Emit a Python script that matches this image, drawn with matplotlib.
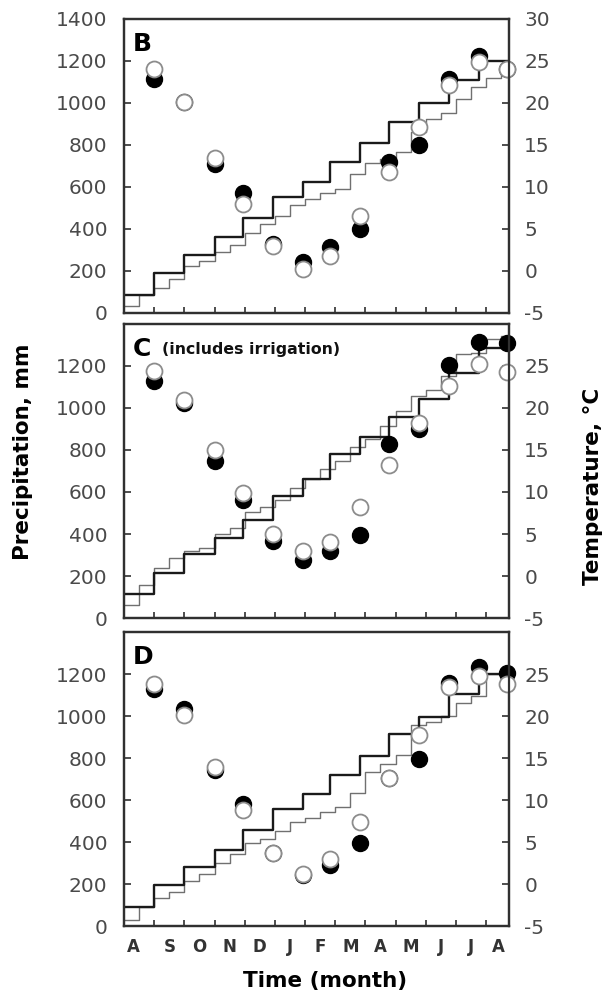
import numpy as np
import matplotlib.pyplot as plt

plt.rcParams['font.family'] = ['DejaVu Sans']
plt.rcParams['axes.unicode_minus'] = False

month_labels = ['A', 'S', 'O', 'N', 'D', 'J', 'F', 'M', 'A', 'M', 'J', 'J', 'A']
# sampling dates, in months since 1 August
sample_month = [1.0, 1.99, 3.0, 3.96, 4.94, 5.93, 6.84, 7.82, 8.79, 9.79, 10.77, 11.75, 12.68]

# panel B
b_filled = [1114, 1005, 711, 571, 329, 243, 314, 400, 719, 802, 1114, 1222, 1163]
b_open = [1163, 1003, 738, 521, 317, 210, 273, 463, 670, 884, 1087, 1194, 1163]
b_temp_step = [-2.8, -0.2, 1.9, 4.1, 6.3, 8.8, 10.6, 13.0, 15.2, 17.7, 20.0, 22.7, 25.0]
b_temp_half = [-4.2, -2.8, -2.0, -1.0, 0.6, 1.2, 2.3, 3.1, 4.5, 5.6, 6.6, 7.9, 8.6,
               9.3, 9.8, 11.5, 12.9, 13.3, 14.2, 16.5, 18.1, 18.8, 20.5, 21.9, 23.0, 24.2]

# panel C (includes irrigation)
c_filled = [1129, 1025, 747, 564, 369, 278, 318, 393, 827, 898, 1203, 1315, 1308]
c_open = [1176, 1037, 798, 596, 402, 318, 361, 529, 727, 927, 1105, 1208, 1172]
c_temp_step = [-2.1, 0.4, 2.6, 4.5, 6.7, 9.5, 11.5, 14.5, 16.6, 18.9, 21.1, 24.2, 27.1]
c_temp_half = [-3.4, -1.1, 1.0, 2.2, 3.0, 3.3, 5.0, 5.7, 7.6, 8.2, 9.1, 10.5, 11.5,
               12.7, 13.7, 15.3, 16.3, 17.8, 19.6, 21.4, 22.2, 23.8, 26.4, 26.6, 28.2, 28.6]

# panel D
d_filled = [1129, 1034, 741, 579, 348, 245, 290, 393, 704, 793, 1156, 1235, 1205]
d_open = [1152, 1007, 757, 551, 350, 250, 321, 495, 706, 910, 1137, 1192, 1152]
d_temp_step = [-2.7, -0.1, 2.0, 4.1, 6.4, 8.9, 10.7, 13.0, 15.2, 17.8, 19.9, 22.6, 25.0]
d_temp_half = [-4.3, -2.7, -1.7, -0.9, 0.4, 1.25, 2.5, 3.6, 4.9, 5.4, 6.3, 7.4, 7.8,
               8.6, 9.2, 10.8, 13.3, 14.3, 15.3, 18.9, 19.3, 20.0, 21.6, 22.4, 25.0, 25.4]

XMAX = 12.76
TICK_GRAY = '#4a4a4a'
SPINE = '#303030'


def draw_panel(ax, letter, filled, opened, temp_step, temp_half, note=None, top_label=False, show_months=False):
    axt = ax.twinx()
    ax.set_zorder(axt.get_zorder() + 1)
    ax.patch.set_visible(False)

    # temperature: half-monthly means (grey) and means between samplings (black)
    xh = np.r_[np.arange(len(temp_half)) * 0.5, XMAX]
    yh = np.r_[temp_half, temp_half[-1]]
    axt.step(xh, yh, where='post', color='#707070', lw=1.0)
    xs = np.r_[0, sample_month[:-1], XMAX]
    ys = np.r_[temp_step, temp_step[-1]]
    axt.step(xs, ys, where='post', color='#1a1a1a', lw=1.7)

    # precipitation
    ax.plot(sample_month, filled, 'o', ms=11.5, mfc='black', mec='black', mew=1.0, clip_on=False)
    ax.plot(sample_month, opened, 'o', ms=11.5, mfc='white', mec='#8c8c8c', mew=1.3, clip_on=False)

    ax.set_xlim(0, XMAX)
    ax.set_ylim(0, 1400)
    axt.set_ylim(-5, 30)

    pticks = np.arange(0, 1401, 200)
    ax.set_yticks(pticks)
    ax.set_yticklabels([str(v) if (v < 1400 or top_label) else '' for v in pticks])
    tticks = np.arange(-5, 31, 5)
    axt.set_yticks(tticks)
    axt.set_yticklabels([str(v) if (v < 30 or top_label) else '' for v in tticks])

    ax.set_xticks(np.arange(1, 13))
    ax.set_xticklabels([])
    centers = np.arange(len(month_labels)) + 0.5
    centers[0] = 0.3
    centers[-1] = 12.4
    ax.set_xticks(centers, minor=True)
    if show_months:
        ax.set_xticklabels(month_labels, minor=True, fontweight='bold', fontsize=12, color='#333333')
    else:
        ax.set_xticklabels([], minor=True)
    ax.tick_params(axis='x', which='major', direction='in', length=4, width=1.2, color=SPINE)
    ax.tick_params(axis='x', which='minor', length=0, pad=9)
    ax.tick_params(axis='y', direction='in', length=5, width=1.2, color=SPINE,
                   labelsize=14.5, labelcolor=TICK_GRAY, pad=12)
    axt.tick_params(axis='y', direction='in', length=5, width=1.2, color=SPINE,
                    labelsize=14.5, labelcolor=TICK_GRAY, pad=11)

    for a in (ax, axt):
        for s in a.spines.values():
            s.set_color(SPINE)
            s.set_linewidth(1.6)

    ax.text(0.022, 0.955, letter, transform=ax.transAxes, fontsize=18, fontweight='bold',
            va='top', ha='left', color='black')
    if note:
        ax.text(0.1, 0.94, note, transform=ax.transAxes, fontsize=11.3, fontweight='bold',
                va='top', ha='left', color='#111111')


fig = plt.figure(figsize=(6.05, 10.01), dpi=100)
left, width, height = 124 / 605, 385 / 605, 294 / 1001
ax_b = fig.add_axes([left, 1 - 313 / 1001, width, height])
ax_c = fig.add_axes([left, 1 - 618 / 1001, width, height])
ax_d = fig.add_axes([left, 1 - 926 / 1001, width, height])

draw_panel(ax_b, 'B', b_filled, b_open, b_temp_step, b_temp_half, top_label=True)
draw_panel(ax_c, 'C', c_filled, c_open, c_temp_step, c_temp_half, note='(includes irrigation)')
draw_panel(ax_d, 'D', d_filled, d_open, d_temp_step, d_temp_half, show_months=True)

fig.text(23 / 605, 1 - 452 / 1001, 'Precipitation, mm', rotation=90, ha='center', va='center',
         fontsize=15.5, fontweight='bold')
fig.text(593 / 605, 1 - 486 / 1001, 'Temperature, °C', rotation=90, ha='center', va='center',
         fontsize=15.5, fontweight='bold')
fig.text(325 / 605, 1 - 981 / 1001, 'Time (month)', ha='center', va='center',
         fontsize=15.5, fontweight='bold')

fig.savefig('out.png', dpi=100)
